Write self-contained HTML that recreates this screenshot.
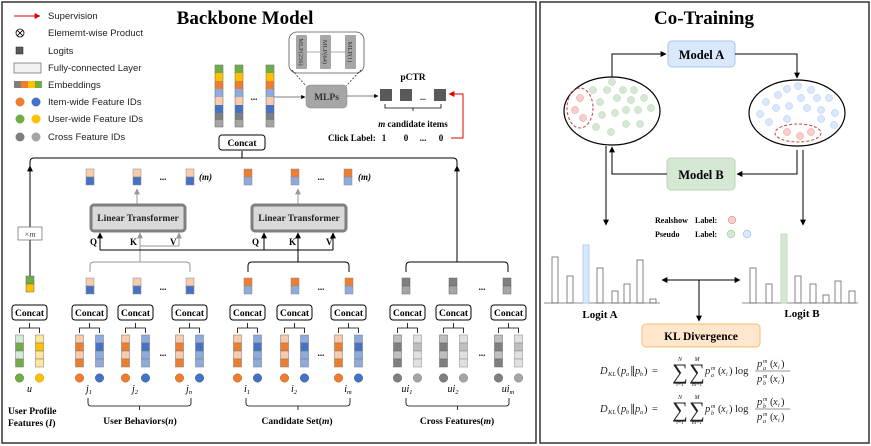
<!DOCTYPE html>
<html><head><meta charset="utf-8"><style>
body{margin:0;background:#fff}
svg{display:block;font-family:"Liberation Serif",serif}
.s{font-family:"Liberation Sans",sans-serif}
.i{font-style:italic}
</style></head><body>
<svg width="871" height="446" viewBox="0 0 871 446" xmlns="http://www.w3.org/2000/svg">
<defs>
<marker id="ab" viewBox="0 0 10 10" refX="9" refY="5" markerWidth="6" markerHeight="6" orient="auto-start-reverse"><path d="M0,0L10,5L0,10z" fill="#000"/></marker>
<marker id="ag" viewBox="0 0 10 10" refX="9" refY="5" markerWidth="6" markerHeight="6" orient="auto"><path d="M0,0L10,5L0,10z" fill="#999"/></marker>
<marker id="ar" viewBox="0 0 10 10" refX="9" refY="5" markerWidth="6" markerHeight="6" orient="auto"><path d="M0,0L10,5L0,10z" fill="#d00"/></marker>
<g id="pPB"><rect x="-4" y="0" width="8" height="8" fill="#f8cbad" stroke="#888" stroke-width=".5"/><rect x="-4" y="8" width="8" height="8" fill="#4472c4" stroke="#888" stroke-width=".5"/></g>
<g id="pOL"><rect x="-4" y="0" width="8" height="8" fill="#ed7d31" stroke="#888" stroke-width=".5"/><rect x="-4" y="8" width="8" height="8" fill="#8faadc" stroke="#888" stroke-width=".5"/></g>
<g id="pGG"><rect x="-4" y="0" width="8" height="8" fill="#7f7f7f" stroke="#666" stroke-width=".5"/><rect x="-4" y="8" width="8" height="8" fill="#a5a5a5" stroke="#666" stroke-width=".5"/></g>
<g id="cc"><rect x="-17.5" y="305" width="35" height="15" rx="3" fill="#fff" stroke="#000" stroke-width="1"/><text x="0" y="316" font-size="9.5" font-weight="bold" text-anchor="middle">Concat</text><path d="M-10,333V328H10V333M0,328V323" fill="none" stroke="#000" stroke-width=".8"/></g>
<g id="fO"><rect x="-4" y="335" width="8" height="8" fill="#f8cbad" stroke="#777" stroke-width=".5"/><rect x="-4" y="343" width="8" height="8" fill="#ed7d31" stroke="#777" stroke-width=".5"/><rect x="-4" y="351" width="8" height="8" fill="#f8cbad" stroke="#777" stroke-width=".5"/><rect x="-4" y="359" width="8" height="8" fill="#ed7d31" stroke="#777" stroke-width=".5"/></g>
<g id="fB"><rect x="-4" y="335" width="8" height="8" fill="#8faadc" stroke="#777" stroke-width=".5"/><rect x="-4" y="343" width="8" height="8" fill="#4472c4" stroke="#777" stroke-width=".5"/><rect x="-4" y="351" width="8" height="8" fill="#8faadc" stroke="#777" stroke-width=".5"/><rect x="-4" y="359" width="8" height="8" fill="#8faadc" stroke="#777" stroke-width=".5"/></g>
<g id="fD"><rect x="-4" y="335" width="8" height="8" fill="#bfbfbf" stroke="#666" stroke-width=".5"/><rect x="-4" y="343" width="8" height="8" fill="#7f7f7f" stroke="#666" stroke-width=".5"/><rect x="-4" y="351" width="8" height="8" fill="#bfbfbf" stroke="#666" stroke-width=".5"/><rect x="-4" y="359" width="8" height="8" fill="#7f7f7f" stroke="#666" stroke-width=".5"/></g>
<g id="fL"><rect x="-4" y="335" width="8" height="8" fill="#e0e0e0" stroke="#888" stroke-width=".5"/><rect x="-4" y="343" width="8" height="8" fill="#bfbfbf" stroke="#888" stroke-width=".5"/><rect x="-4" y="351" width="8" height="8" fill="#e0e0e0" stroke="#888" stroke-width=".5"/><rect x="-4" y="359" width="8" height="8" fill="#e0e0e0" stroke="#888" stroke-width=".5"/></g>
<g id="ar"><line x1="0" y1="374" x2="0" y2="369" stroke="#000" stroke-width=".7" marker-end="url(#ab)"/></g>
<g id="uB"><use href="#cc"/><use href="#fO" x="-10"/><use href="#fB" x="10"/><use href="#ar" x="-10"/><use href="#ar" x="10"/><circle cx="-10" cy="378" r="4.2" fill="#ed7d31" stroke="#c55a11" stroke-width=".5"/><circle cx="10" cy="378" r="4.2" fill="#4472c4" stroke="#2f5597" stroke-width=".5"/></g>
<g id="uC"><use href="#cc"/><use href="#fD" x="-10"/><use href="#fL" x="10"/><use href="#ar" x="-10"/><use href="#ar" x="10"/><circle cx="-10" cy="378" r="4.2" fill="#7f7f7f" stroke="#555" stroke-width=".5"/><circle cx="10" cy="378" r="4.2" fill="#a5a5a5" stroke="#777" stroke-width=".5"/></g>
<g id="bigcol"><rect x="-4" y="65" width="8" height="8" fill="#70ad47"/><rect x="-4" y="73" width="8" height="8" fill="#ffc000"/><rect x="-4" y="81" width="8" height="8" fill="#ed7d31"/><rect x="-4" y="89" width="8" height="8" fill="#8faadc"/><rect x="-4" y="97" width="8" height="8" fill="#f8cbad"/><rect x="-4" y="105" width="8" height="8" fill="#4472c4"/><rect x="-4" y="113" width="8" height="7" fill="#7f7f7f"/><rect x="-4" y="120" width="8" height="7" fill="#a5a5a5"/><rect x="-4" y="65" width="8" height="62" fill="none" stroke="#777" stroke-width=".6"/></g>
</defs>

<rect x="2" y="2" width="534" height="441" fill="none" stroke="#333" stroke-width="1.5"/>
<rect x="540" y="2" width="329" height="441" fill="none" stroke="#333" stroke-width="1.5"/>

<g class="s" font-size="9.5" fill="#222">
<line x1="14" y1="16" x2="40" y2="16" stroke="#d00" stroke-width="1" marker-end="url(#ar)"/>
<text x="48" y="19">Supervision</text>
<circle cx="20" cy="33" r="4" fill="none" stroke="#000" stroke-width=".8"/><path d="M17.2,30.2L22.8,35.8M22.8,30.2L17.2,35.8" stroke="#000" stroke-width=".8"/>
<text x="48" y="36">Elememt-wise Product</text>
<rect x="16" y="47" width="7" height="7" fill="#595959" stroke="#222" stroke-width=".5"/>
<text x="48" y="54">Logits</text>
<rect x="14" y="63" width="27" height="10" fill="#f2f2f2" stroke="#666" stroke-width=".7"/>
<text x="48" y="71">Fully-connected Layer</text>
<rect x="14" y="81" width="7" height="7" fill="#7f7f7f"/><rect x="21" y="81" width="7" height="7" fill="#ed7d31"/><rect x="28" y="81" width="7" height="7" fill="#ffc000"/><rect x="35" y="81" width="7" height="7" fill="#70ad47"/>
<text x="48" y="88">Embeddings</text>
<circle cx="20" cy="102" r="4.5" fill="#ed7d31"/><circle cx="36" cy="102" r="4.5" fill="#4472c4"/><text x="48" y="105">Item-wide Feature IDs</text>
<circle cx="20" cy="119" r="4.5" fill="#70ad47"/><circle cx="36" cy="119" r="4.5" fill="#ffc000"/><text x="48" y="122">User-wide Feature IDs</text>
<circle cx="20" cy="137" r="4.5" fill="#7f7f7f"/><circle cx="36" cy="137" r="4.5" fill="#a5a5a5"/><text x="48" y="140">Cross Feature IDs</text>
</g>

<text x="245" y="24" font-size="19" font-weight="bold" text-anchor="middle">Backbone Model</text>

<use href="#bigcol" x="219"/><use href="#bigcol" x="239"/><use href="#bigcol" x="270"/>
<text x="254" y="100" font-size="9" font-weight="bold" text-anchor="middle">...</text>
<line x1="274" y1="97" x2="305" y2="97" stroke="#555" stroke-width=".7" marker-end="url(#ab)"/>
<rect x="289" y="32" width="75" height="41" rx="8" fill="#fff" stroke="#555" stroke-width=".8"/>
<line x1="302" y1="52" x2="350" y2="52" stroke="#555" stroke-width=".6"/>
<rect x="296" y="35" width="11" height="34" rx="1" fill="#a6a6a6"/><rect x="320" y="35" width="11" height="34" rx="1" fill="#a6a6a6"/><rect x="345" y="35" width="11" height="34" rx="1" fill="#a6a6a6"/>
<g font-size="6.5" fill="#333"><text transform="translate(299,52) rotate(90)" text-anchor="middle">MLP(256)</text><text transform="translate(323,52) rotate(90)" text-anchor="middle">MLP(64)</text><text transform="translate(348,52) rotate(90)" text-anchor="middle">MLP(1)</text></g>
<path d="M292,70L306,86M361,70L346,86" stroke="#333" stroke-width=".8" stroke-dasharray="2,1.5" fill="none"/>
<rect x="306" y="85" width="41" height="23" rx="4" fill="#a6a6a6" stroke="#888" stroke-width=".5"/>
<text x="326.5" y="100" font-size="9.5" font-weight="bold" fill="#333" text-anchor="middle">MLPs</text>
<line x1="347" y1="96" x2="378" y2="96" stroke="#555" stroke-width=".7" marker-end="url(#ab)"/>
<rect x="380" y="89" width="12" height="12" fill="#595959"/><rect x="400" y="89" width="12" height="12" fill="#595959"/><rect x="434" y="89" width="12" height="12" fill="#595959"/>
<text x="423" y="100" font-size="8" font-weight="bold" text-anchor="middle">...</text>
<text x="413" y="80" font-size="9.5" font-weight="bold" text-anchor="middle">pCTR</text>
<path d="M385,104V108H441V104M413,108V111" fill="none" stroke="#000" stroke-width=".8"/>
<text x="413" y="127" font-size="9" font-weight="bold" text-anchor="middle"><tspan font-style="italic">m</tspan> candidate items</text>
<g font-size="9" font-weight="bold">
<text x="328" y="141">Click Label:</text>
<text x="384" y="141" text-anchor="middle">1</text><text x="406" y="141" text-anchor="middle">0</text><text x="423" y="141" text-anchor="middle">...</text><text x="441" y="141" text-anchor="middle">0</text>
</g>
<path d="M451,138H463V94H449" fill="none" stroke="#d00" stroke-width="1" marker-end="url(#ar)"/>

<rect x="219" y="135" width="46" height="15" rx="3" fill="#fff" stroke="#000"/>
<text x="242" y="146" font-size="9.5" font-weight="bold" text-anchor="middle">Concat</text>
<path d="M30,168V162Q30,158 34,158H453Q457,158 457,162V168M242,158V151" fill="none" stroke="#000" stroke-width="1"/>
<line x1="30" y1="276" x2="30" y2="166" stroke="#000" stroke-width="1" marker-end="url(#ab)"/>
<line x1="457" y1="262" x2="457" y2="166" stroke="#000" stroke-width="1" marker-end="url(#ab)"/>
<rect x="18" y="227" width="24" height="13" fill="#fff" stroke="#666" stroke-width=".7"/>
<text x="30" y="237" font-size="8.5" text-anchor="middle" fill="#444">×<tspan font-style="italic">m</tspan></text>
<rect x="26" y="276" width="8" height="8" fill="#70ad47" stroke="#666" stroke-width=".5"/><rect x="26" y="284" width="8" height="8" fill="#ffc000" stroke="#666" stroke-width=".5"/>

<use href="#pPB" x="90" y="169"/><use href="#pPB" x="137" y="169"/><use href="#pPB" x="190" y="169"/>
<use href="#pOL" x="248" y="169"/><use href="#pOL" x="295" y="169"/><use href="#pOL" x="348" y="169"/>
<g font-size="9" font-weight="bold"><text x="163" y="180" text-anchor="middle">...</text><text x="321" y="180" text-anchor="middle">...</text>
<text x="199" y="180" font-style="italic">(m)</text><text x="358" y="180" font-style="italic">(m)</text></g>
<line x1="137" y1="204" x2="137" y2="189" stroke="#999" stroke-width="1" marker-end="url(#ag)"/>
<line x1="298" y1="204" x2="298" y2="189" stroke="#999" stroke-width="1" marker-end="url(#ag)"/>
<rect x="91" y="205" width="94" height="26" rx="3" fill="#d9d9d9" stroke="#7f7f7f" stroke-width="3"/>
<text x="138" y="221" font-size="9.5" font-weight="bold" text-anchor="middle" fill="#222">Linear Transformer</text>
<rect x="252" y="205" width="94" height="26" rx="3" fill="#d9d9d9" stroke="#7f7f7f" stroke-width="3"/>
<text x="299" y="221" font-size="9.5" font-weight="bold" text-anchor="middle" fill="#222">Linear Transformer</text>
<g font-size="9" font-weight="bold"><text x="90" y="245">Q</text><text x="130" y="245">K</text><text x="170" y="245">V</text><text x="252" y="245">Q</text><text x="289" y="245">K</text><text x="326" y="245">V</text></g>
<path d="M140,262V246M179,246H140" fill="none" stroke="#999" stroke-width="1"/>
<line x1="140" y1="246" x2="140" y2="233" stroke="#999" stroke-width="1" marker-end="url(#ag)"/>
<line x1="179" y1="246" x2="179" y2="233" stroke="#999" stroke-width="1" marker-end="url(#ag)"/>
<path d="M90,272V266Q90,262 94,262H186Q190,262 190,266V272" fill="none" stroke="#999" stroke-width="1"/>
<path d="M100,250H333" fill="none" stroke="#000" stroke-width="1"/>
<line x1="100" y1="250" x2="100" y2="233" stroke="#000" stroke-width="1" marker-end="url(#ab)"/>
<line x1="264" y1="250" x2="264" y2="233" stroke="#000" stroke-width="1" marker-end="url(#ab)"/>
<line x1="298" y1="262" x2="298" y2="233" stroke="#000" stroke-width="1" marker-end="url(#ab)"/>
<line x1="333" y1="250" x2="333" y2="233" stroke="#000" stroke-width="1" marker-end="url(#ab)"/>
<path d="M248,272V266Q248,262 252,262H345Q349,262 349,266V272" fill="none" stroke="#000" stroke-width="1"/>
<path d="M406,272V266Q406,262 410,262H504Q508,262 508,266V272" fill="none" stroke="#000" stroke-width="1"/>

<use href="#pPB" x="90" y="278"/><use href="#pPB" x="137" y="278"/><use href="#pPB" x="190" y="278"/>
<use href="#pOL" x="248" y="278"/><use href="#pOL" x="295" y="278"/><use href="#pOL" x="349" y="278"/>
<use href="#pGG" x="406" y="278"/><use href="#pGG" x="453" y="278"/><use href="#pGG" x="507" y="278"/>
<g font-size="9" font-weight="bold" text-anchor="middle"><text x="163" y="290">...</text><text x="321" y="290">...</text><text x="482" y="290">...</text></g>

<use href="#cc" x="29.5"/>
<rect x="15.5" y="335" width="8" height="8" fill="#d5e8d4" stroke="#777" stroke-width=".5"/><rect x="15.5" y="343" width="8" height="8" fill="#70ad47" stroke="#777" stroke-width=".5"/><rect x="15.5" y="351" width="8" height="8" fill="#d5e8d4" stroke="#777" stroke-width=".5"/><rect x="15.5" y="359" width="8" height="8" fill="#70ad47" stroke="#777" stroke-width=".5"/>
<rect x="35.5" y="335" width="8" height="8" fill="#ffe699" stroke="#777" stroke-width=".5"/><rect x="35.5" y="343" width="8" height="8" fill="#ffc000" stroke="#777" stroke-width=".5"/><rect x="35.5" y="351" width="8" height="8" fill="#ffe699" stroke="#777" stroke-width=".5"/><rect x="35.5" y="359" width="8" height="8" fill="#ffe699" stroke="#777" stroke-width=".5"/>
<use href="#ar" x="19.5"/><use href="#ar" x="39.5"/>
<circle cx="19.5" cy="378" r="4.2" fill="#70ad47" stroke="#507e32" stroke-width=".5"/><circle cx="39.5" cy="378" r="4.2" fill="#ffc000" stroke="#bf9000" stroke-width=".5"/>
<use href="#uB" x="89.5"/><use href="#uB" x="135.5"/><use href="#uB" x="189.5"/>
<use href="#uB" x="247.5"/><use href="#uB" x="294.5"/><use href="#uB" x="348.5"/>
<use href="#uC" x="407.5"/><use href="#uC" x="453.5"/><use href="#uC" x="508.5"/>
<g font-size="9" font-weight="bold" text-anchor="middle"><text x="163" y="356">...</text><text x="321" y="356">...</text><text x="482" y="356">...</text></g>
<g font-size="10" font-style="italic" text-anchor="middle">
<text x="29.5" y="392">u</text>
<text x="89" y="392">j<tspan font-size="6.5" dy="2">1</tspan></text><text x="135" y="392">j<tspan font-size="6.5" dy="2">2</tspan></text><text x="189" y="392">j<tspan font-size="6.5" dy="2">n</tspan></text>
<text x="247" y="392">i<tspan font-size="6.5" dy="2">1</tspan></text><text x="294" y="392">i<tspan font-size="6.5" dy="2">2</tspan></text><text x="348" y="392">i<tspan font-size="6.5" dy="2">m</tspan></text>
<text x="407" y="392">ui<tspan font-size="6.5" dy="2">1</tspan></text><text x="453" y="392">ui<tspan font-size="6.5" dy="2">2</tspan></text><text x="508" y="392">ui<tspan font-size="6.5" dy="2">m</tspan></text>
</g>
<g fill="none" stroke="#000" stroke-width=".8">
<path d="M88,398V403Q88,406 91,406H188Q191,406 191,403V398M139.5,406V410"/>
<path d="M246,398V403Q246,406 249,406H347Q350,406 350,403V398M298,406V410"/>
<path d="M406,398V403Q406,406 409,406H506Q509,406 509,403V398M457.5,406V410"/>
</g>
<g font-size="9.5" font-weight="bold" text-anchor="middle">
<text x="140" y="424">User Behaviors(<tspan font-style="italic">n</tspan>)</text>
<text x="297" y="424">Candidate Set(<tspan font-style="italic">m</tspan>)</text>
<text x="457" y="424">Cross Features(<tspan font-style="italic">m</tspan>)</text>
<text x="8" y="414" text-anchor="start">User Profile</text>
<text x="8" y="426" text-anchor="start">Features (<tspan font-style="italic">I</tspan>)</text>
</g>

<!-- RIGHT PANEL -->
<text x="704" y="24" font-size="19" font-weight="bold" text-anchor="middle">Co-Training</text>
<rect x="668" y="41" width="67" height="26" rx="4" fill="#dae8fc" stroke="#a9c4eb" stroke-width="1"/>
<text x="701.5" y="59" font-size="12.5" font-weight="bold" text-anchor="middle">Model A</text>
<rect x="667" y="158" width="68" height="32" rx="4" fill="#d5e8d4" stroke="#b9d7b3" stroke-width="1"/>
<text x="701" y="179" font-size="12.5" font-weight="bold" text-anchor="middle">Model B</text>
<rect x="642" y="324" width="118" height="23" rx="4" fill="#ffe6cc" stroke="#f0c06a" stroke-width="1"/>
<text x="701" y="340" font-size="11.5" font-weight="bold" text-anchor="middle">KL Divergence</text>

<ellipse cx="612" cy="111" rx="48" ry="34" fill="#fff" stroke="#000" stroke-width="1.2"/>
<ellipse cx="797" cy="113" rx="48" ry="33" fill="#fff" stroke="#000" stroke-width="1.2"/>
<g fill="#d5e8d4" stroke="#b0d0a8" stroke-width=".5">
<circle cx="612" cy="82" r="3.5"/><circle cx="593" cy="90" r="3.5"/><circle cx="607" cy="90" r="3.5"/><circle cx="623" cy="90" r="3.5"/><circle cx="634" cy="90" r="3.5"/>
<circle cx="617" cy="98" r="3.5"/><circle cx="631" cy="100" r="3.5"/><circle cx="644" cy="98" r="3.5"/><circle cx="600" cy="102" r="3.5"/>
<circle cx="626" cy="110" r="3.5"/><circle cx="638" cy="110" r="3.5"/><circle cx="651" cy="108" r="3.5"/><circle cx="602" cy="115" r="3.5"/><circle cx="615" cy="113" r="3.5"/>
<circle cx="626" cy="124" r="3.5"/><circle cx="640" cy="124" r="3.5"/><circle cx="596" cy="127" r="3.5"/><circle cx="611" cy="132" r="3.5"/>
</g>
<g fill="#f8cecc" stroke="#e09090" stroke-width=".5"><circle cx="580" cy="98" r="3.5"/><circle cx="575" cy="110" r="3.5"/><circle cx="583" cy="118" r="3.5"/>
<circle cx="787" cy="132" r="3.5"/><circle cx="800" cy="136" r="3.5"/><circle cx="811" cy="132" r="3.5"/></g>
<ellipse cx="580" cy="108" rx="13" ry="20" fill="none" stroke="#cc4444" stroke-width="1" stroke-dasharray="3,2"/>
<ellipse cx="798" cy="133" rx="23" ry="9" fill="none" stroke="#cc4444" stroke-width="1" stroke-dasharray="3,2"/>
<g fill="#dae8fc" stroke="#a9c4eb" stroke-width=".5">
<circle cx="787" cy="89" r="3.5"/><circle cx="798" cy="86" r="3.5"/><circle cx="811" cy="90" r="3.5"/><circle cx="778" cy="95" r="3.5"/>
<circle cx="801" cy="98" r="3.5"/><circle cx="817" cy="98" r="3.5"/><circle cx="829" cy="98" r="3.5"/><circle cx="766" cy="102" r="3.5"/>
<circle cx="776" cy="108" r="3.5"/><circle cx="789" cy="106" r="3.5"/><circle cx="807" cy="108" r="3.5"/><circle cx="821" cy="110" r="3.5"/><circle cx="835" cy="113" r="3.5"/>
<circle cx="760" cy="114" r="3.5"/><circle cx="787" cy="119" r="3.5"/><circle cx="821" cy="119" r="3.5"/><circle cx="769" cy="122" r="3.5"/><circle cx="834" cy="125" r="3.5"/>
</g>
<g fill="none" stroke="#000" stroke-width="1">
<path d="M612,77V54H666" marker-end="url(#ab)"/>
<path d="M735,54H797V78" marker-end="url(#ab)"/>
<path d="M797,150V174H737" marker-end="url(#ab)"/>
<path d="M667,174H612V147" marker-end="url(#ab)"/>
<path d="M606,146V225" marker-end="url(#ab)"/>
<path d="M803,150V225" marker-end="url(#ab)"/>
<path d="M662,280H740" marker-start="url(#ab)" marker-end="url(#ab)"/>
<path d="M699,280V321" marker-end="url(#ab)"/>
</g>
<g font-size="8" font-weight="bold">
<text x="655" y="223">Realshow</text><text x="695" y="223">Label:</text>
<text x="655" y="237">Pseudo</text><text x="695" y="237">Label:</text></g>
<circle cx="732" cy="220" r="3.8" fill="#f8cecc" stroke="#e09090" stroke-width=".6"/>
<circle cx="731" cy="234" r="3.8" fill="#d5e8d4" stroke="#9fc798" stroke-width=".6"/>
<circle cx="747" cy="234" r="3.8" fill="#dae8fc" stroke="#9ab8e0" stroke-width=".6"/>
<g fill="none" stroke="#666" stroke-width=".8">
<line x1="544" y1="303" x2="660" y2="303"/>
<rect x="552" y="257" width="6" height="46"/><rect x="567" y="276" width="6" height="27"/>
<rect x="597" y="268" width="6" height="35"/><rect x="612" y="291" width="6" height="12"/><rect x="624" y="284" width="6" height="19"/><rect x="637" y="260" width="6" height="43"/><rect x="650" y="299" width="6" height="4"/>
<line x1="742" y1="303" x2="858" y2="303"/>
<rect x="750" y="268" width="6" height="35"/><rect x="766" y="284" width="6" height="19"/>
<rect x="795" y="276" width="6" height="27"/><rect x="810" y="284" width="6" height="19"/><rect x="823" y="295" width="6" height="8"/><rect x="835" y="281" width="6" height="22"/><rect x="849" y="291" width="6" height="12"/>
</g>
<rect x="583" y="245" width="6" height="58" fill="#dae8fc" stroke="#a9c4eb" stroke-width=".8"/>
<rect x="781" y="234" width="6" height="69" fill="#d5e8d4" stroke="#b9d7b3" stroke-width=".8"/>
<text x="600" y="318" font-size="11" font-weight="bold" text-anchor="middle">Logit A</text>
<text x="802" y="317" font-size="11" font-weight="bold" text-anchor="middle">Logit B</text>

<!-- formula 1 -->
<g fill="#222" font-size="10.5">
<text x="600" y="374" class="i">D</text><text x="608" y="376" font-size="6.5" class="i">KL</text>
<text x="617" y="374">(</text><text x="621" y="374" class="i">p</text><text x="626" y="376" font-size="6" class="i">a</text><text x="630" y="374">∥</text><text x="635" y="374" class="i">p</text><text x="640" y="376" font-size="6" class="i">b</text><text x="644" y="374">)</text>
<text x="652" y="374">=</text>
<text x="680" y="379" font-size="22" text-anchor="middle">∑</text><text x="697" y="379" font-size="22" text-anchor="middle">∑</text>
<text x="680" y="361" font-size="6" text-anchor="middle" class="i">N</text><text x="697" y="361" font-size="6" text-anchor="middle" class="i">M</text>
<text x="680" y="386" font-size="5.5" text-anchor="middle">i=1</text><text x="697" y="386" font-size="5.5" text-anchor="middle">m=1</text>
<text x="705" y="374" class="i">p</text><text x="711" y="370" font-size="6" class="i">m</text><text x="711" y="377" font-size="6" class="i">a</text>
<text x="718" y="374">(</text><text x="721" y="374" class="i">x</text><text x="726" y="376" font-size="6" class="i">i</text><text x="729" y="374">)</text>
<text x="735" y="374">log</text>
<line x1="755" y1="371" x2="790" y2="371" stroke="#222" stroke-width=".6"/>
<text x="757" y="367" class="i">p</text><text x="763" y="363" font-size="6" class="i">m</text><text x="763" y="370" font-size="6" class="i">a</text><text x="770" y="367">(</text><text x="773" y="367" class="i">x</text><text x="778" y="369" font-size="6" class="i">i</text><text x="781" y="367">)</text>
<text x="757" y="382" class="i">p</text><text x="763" y="378" font-size="6" class="i">m</text><text x="763" y="385" font-size="6" class="i">b</text><text x="770" y="382">(</text><text x="773" y="382" class="i">x</text><text x="778" y="384" font-size="6" class="i">i</text><text x="781" y="382">)</text>
</g>
<!-- formula 2 -->
<g fill="#222" font-size="10.5" transform="translate(0,38)">
<text x="600" y="374" class="i">D</text><text x="608" y="376" font-size="6.5" class="i">KL</text>
<text x="617" y="374">(</text><text x="621" y="374" class="i">p</text><text x="626" y="376" font-size="6" class="i">b</text><text x="630" y="374">∥</text><text x="635" y="374" class="i">p</text><text x="640" y="376" font-size="6" class="i">a</text><text x="644" y="374">)</text>
<text x="652" y="374">=</text>
<text x="680" y="379" font-size="22" text-anchor="middle">∑</text><text x="697" y="379" font-size="22" text-anchor="middle">∑</text>
<text x="680" y="361" font-size="6" text-anchor="middle" class="i">N</text><text x="697" y="361" font-size="6" text-anchor="middle" class="i">M</text>
<text x="680" y="386" font-size="5.5" text-anchor="middle">i=1</text><text x="697" y="386" font-size="5.5" text-anchor="middle">m=1</text>
<text x="705" y="374" class="i">p</text><text x="711" y="370" font-size="6" class="i">m</text><text x="711" y="377" font-size="6" class="i">b</text>
<text x="718" y="374">(</text><text x="721" y="374" class="i">x</text><text x="726" y="376" font-size="6" class="i">i</text><text x="729" y="374">)</text>
<text x="735" y="374">log</text>
<line x1="755" y1="371" x2="790" y2="371" stroke="#222" stroke-width=".6"/>
<text x="757" y="367" class="i">p</text><text x="763" y="363" font-size="6" class="i">m</text><text x="763" y="370" font-size="6" class="i">b</text><text x="770" y="367">(</text><text x="773" y="367" class="i">x</text><text x="778" y="369" font-size="6" class="i">i</text><text x="781" y="367">)</text>
<text x="757" y="382" class="i">p</text><text x="763" y="378" font-size="6" class="i">m</text><text x="763" y="385" font-size="6" class="i">a</text><text x="770" y="382">(</text><text x="773" y="382" class="i">x</text><text x="778" y="384" font-size="6" class="i">i</text><text x="781" y="382">)</text>
</g>
</svg>
</body></html>
